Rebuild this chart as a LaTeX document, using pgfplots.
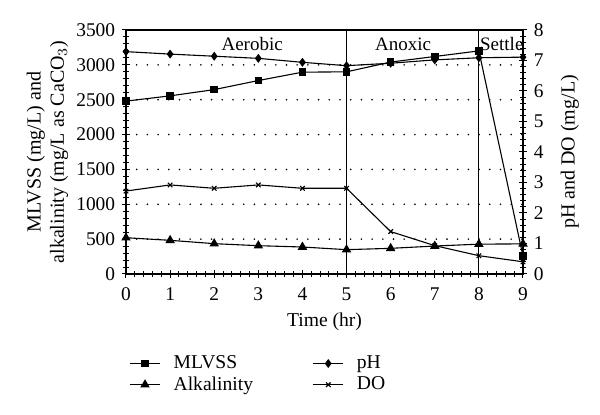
\documentclass[border=0pt]{standalone}
\usepackage{pgfplots}
\pgfplotsset{compat=1.18}
\usepackage{fontspec}
\setmainfont{Liberation Serif}
\begin{document}
\fontsize{9.7}{11}\selectfont
\begin{tikzpicture}
\useasboundingbox (-63pt,-70.5pt) rectangle (237pt,137pt);
\pgfplotsset{
  common/.style={
    at={(0,0)}, anchor=south west,
    scale only axis, width=198.5pt, height=122pt,
    xmin=0, xmax=9,
    tick align=center,
    major tick length=4pt, minor tick length=2.6pt,
    every tick/.style={black, line width=0.5pt},
    axis line style={line width=0.6pt},
    /pgf/number format/assume math mode=true,
    /pgf/number format/1000 sep={},
    ticklabel style={font=\fontsize{9.7}{11}\selectfont},
    every axis plot/.append style={black, line width=0.55pt},
  },
  legend image code/.code={\draw[mark repeat=2,mark phase=2] plot coordinates {(0cm,0cm)(0.265cm,0cm)(0.53cm,0cm)};},
}
\begin{axis}[common,
  ymin=0, ymax=3500,
  xtick={0,...,9}, ytick={0,500,...,3500},
  minor x tick num=4, minor y tick num=4,
  xtick pos=left, ytick pos=left,
  xticklabel style={yshift=-1.5pt},
  ymajorgrids, major grid style={black, line width=0.9pt, line cap=round, dash pattern=on 0pt off 5.35pt},
  xlabel={Time (hr)},
  every axis x label/.style={at={(axis description cs:0.5,-0.197)}, anchor=center, font=\fontsize{9.8}{11}\selectfont},
  ylabel={MLVSS (mg/L) and\\alkalinity (mg/L as CaCO$_3$)},
  every axis y label/.style={at={(axis description cs:-0.128,0.5)}, rotate=90, anchor=south, align=center, font=\fontsize{10}{11.7}\selectfont},
  legend columns=2,
  legend cell align=left,
  legend style={draw=none, fill=none, at={(axis description cs:-0.0076,-0.30)}, anchor=north west,
    font=\fontsize{9.8}{11}\selectfont, row sep=-1.5pt,
    /tikz/every odd column/.style={column sep=4.5pt}},
]
\addplot[forget plot, black, line width=0.6pt] coordinates {(5,0) (5,3500)};
\addplot[forget plot, black, line width=0.6pt] coordinates {(8,0) (8,3500)};
\addplot[mark=square*, mark size=1.6pt] coordinates {
(0,2480) (1,2555) (2,2645) (3,2775) (4,2895) (5,2900) (6,3040) (7,3120) (8,3200) (9,255)};
\addlegendentry{\makebox[67.5pt][l]{MLVSS}}
\addlegendimage{black, line width=0.55pt, mark=diamond*, mark size=1.8pt}
\addlegendentry{pH}
\addplot[mark=triangle*, mark size=2.2pt] coordinates {
(0,520) (1,483) (2,435) (3,406) (4,387) (5,349) (6,368) (7,401) (8,428) (9,432)};
\addlegendentry{\makebox[67.5pt][l]{Alkalinity}}
\addlegendimage{black, line width=0.55pt, mark=x, mark size=1.6pt}
\addlegendentry{DO}
\node[font=\fontsize{9.5}{11}\selectfont] at (axis cs:2.86,3300) {Aerobic};
\node[font=\fontsize{9.5}{11}\selectfont] at (axis cs:6.28,3300) {Anoxic};
\node[font=\fontsize{9.5}{11}\selectfont] at (axis cs:8.52,3300) {Settle};
\end{axis}
\begin{axis}[common,
  ymin=0, ymax=8,
  axis x line=none, axis y line*=right,
  ytick={0,...,8}, minor y tick num=4,
  ylabel={pH and DO (mg/L)},
  every axis y label/.style={at={(axis description cs:1.118,0.5)}, rotate=90, anchor=center, font=\fontsize{10}{11}\selectfont},
]
\addplot[mark=diamond*, mark size=1.8pt] coordinates {
(0,7.29) (1,7.21) (2,7.14) (3,7.07) (4,6.94) (5,6.83) (6,6.91) (7,7.02) (8,7.09) (9,7.11)};
\addplot[mark=x, mark size=1.6pt] coordinates {
(0,2.72) (1,2.92) (2,2.81) (3,2.92) (4,2.81) (5,2.81) (6,1.39) (7,0.93) (8,0.60) (9,0.40)};
\end{axis}
\end{tikzpicture}
\end{document}
